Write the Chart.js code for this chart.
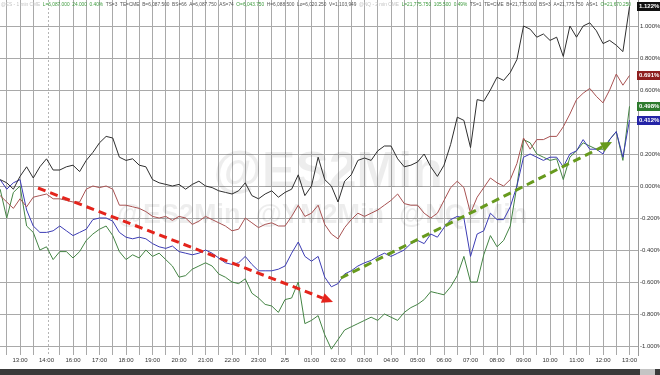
<!DOCTYPE html>
<html>
<head>
<meta charset="utf-8">
<script src="https://cdn.jsdelivr.net/npm/chart.js@4.4.1/dist/chart.umd.min.js"></script>
<style>
html, body { margin: 0; padding: 0; background: #fff; }
</style>
</head>
<body>
<canvas id="myChart" width="660" height="375"></canvas>
<script>
// tick labels (one per trading hour, 15:00 is the maintenance break)
var hourLabels = ['13:00', '14:00', '16:00', '17:00', '18:00', '19:00', '20:00', '21:00', '22:00', '23:00', '2/5', '01:00',
    '02:00', '03:00', '04:00', '05:00', '06:00', '07:00', '08:00', '09:00', '10:00', '11:00', '12:00', '13:00'];
var yTicks = [-1.0, -0.8, -0.6, -0.4, -0.2, 0, 0.2, 0.4, 0.6, 0.8, 1.0];

// % change, sampled every 15 min of trading time starting 12:15
var blackVals = [0.04, 0.02, -0.02, 0.06, 0.12, 0.05, 0.12, 0.17, 0.10, 0.10,
    0.12, 0.13, 0.09, 0.16, 0.21, 0.27, 0.31, 0.30, 0.18, 0.16,
    0.17, 0.13, 0.12, 0.04, 0.02, 0.01, 0.00, 0.01, -0.02, 0.01,
    0.03, 0.00, -0.01, -0.03, -0.04, -0.05, -0.03, 0.02, -0.06, -0.08,
    -0.05, -0.03, -0.07, -0.04, -0.02, 0.07, -0.06, 0.00, 0.18, 0.04,
    0.00, -0.10, 0.03, 0.07, 0.16, 0.175, 0.16, 0.22, 0.25, 0.25,
    0.17, 0.12, 0.13, 0.15, 0.20, 0.12, 0.06, 0.13, 0.26, 0.43,
    0.41, 0.24, 0.54, 0.53, 0.60, 0.68, 0.66, 0.71, 0.79, 1.00,
    0.98, 0.93, 0.95, 0.91, 0.93, 0.81, 1.00, 0.93, 1.00, 1.02,
    0.97, 0.89, 0.91, 0.88, 0.84, 1.122];
var redVals = [-0.06, -0.10, -0.14, -0.08, -0.13, -0.07, -0.06, -0.05, -0.08, -0.08,
    -0.09, -0.10, -0.10, -0.02, 0.00, -0.01, 0.00, -0.02, -0.12, -0.12,
    -0.13, -0.14, -0.16, -0.19, -0.20, -0.19, -0.215, -0.19, -0.20, -0.24,
    -0.22, -0.19, -0.21, -0.23, -0.25, -0.28, -0.27, -0.20, -0.23, -0.26,
    -0.24, -0.23, -0.25, -0.25, -0.19, -0.12, -0.19, -0.17, -0.12, -0.24,
    -0.30, -0.33, -0.26, -0.21, -0.17, -0.19, -0.17, -0.15, -0.12, -0.09,
    -0.05, -0.11, -0.12, -0.12, -0.17, -0.20, -0.17, -0.09, -0.01, 0.03,
    -0.01, -0.17, -0.07, -0.01, 0.05, 0.02, 0.00, 0.04, 0.14, 0.30,
    0.23, 0.29, 0.29, 0.31, 0.31, 0.37, 0.45, 0.54, 0.58, 0.61,
    0.56, 0.52, 0.60, 0.70, 0.63, 0.691];
var blueVals = [0.04, -0.02, 0.02, 0.04, -0.15, -0.25, -0.29, -0.29, -0.28, -0.25,
    -0.28, -0.31, -0.29, -0.27, -0.21, -0.20, -0.20, -0.22, -0.29, -0.32,
    -0.33, -0.32, -0.33, -0.36, -0.38, -0.39, -0.375, -0.41, -0.42, -0.43,
    -0.42, -0.40, -0.42, -0.45, -0.48, -0.49, -0.48, -0.44, -0.49, -0.53,
    -0.53, -0.53, -0.52, -0.50, -0.42, -0.35, -0.44, -0.47, -0.44, -0.57,
    -0.63, -0.61, -0.55, -0.53, -0.50, -0.48, -0.465, -0.44, -0.42, -0.44,
    -0.42, -0.40, -0.36, -0.34, -0.36, -0.30, -0.32, -0.26, -0.21, -0.19,
    -0.20, -0.44, -0.30, -0.28, -0.17, -0.21, -0.21, -0.13, 0.00, 0.18,
    0.20, 0.18, 0.16, 0.18, 0.18, 0.12, 0.20, 0.22, 0.29, 0.23,
    0.23, 0.20, 0.29, 0.34, 0.18, 0.412];
var greenVals = [-0.02, -0.20, -0.04, 0.00, -0.25, -0.29, -0.40, -0.38, -0.46, -0.41,
    -0.41, -0.45, -0.41, -0.34, -0.30, -0.27, -0.25, -0.31, -0.41, -0.46,
    -0.43, -0.45, -0.40, -0.44, -0.42, -0.46, -0.50, -0.57, -0.56, -0.52,
    -0.50, -0.48, -0.50, -0.55, -0.57, -0.60, -0.61, -0.58, -0.67, -0.70,
    -0.74, -0.75, -0.79, -0.71, -0.70, -0.60, -0.86, -0.84, -0.81, -0.93,
    -1.02, -0.96, -0.90, -0.88, -0.86, -0.84, -0.82, -0.84, -0.80, -0.82,
    -0.84, -0.79, -0.76, -0.74, -0.71, -0.66, -0.67, -0.68, -0.63, -0.56,
    -0.44, -0.60, -0.60, -0.43, -0.31, -0.38, -0.34, -0.25, 0.00, 0.29,
    0.27, 0.20, 0.18, 0.16, 0.17, 0.04, 0.18, 0.22, 0.27, 0.25,
    0.23, 0.23, 0.29, 0.34, 0.16, 0.498];

// trend arrows drawn on the chart, [hour index, %]
var redArrow = [[0.68, -0.0125], [11.81, -0.725]];
var greenArrow = [[12.11, -0.575], [22.34, 0.275]];

var headerParts = [
    ['@ES - 1 min CME  ', '#c4c4c4'],
    ['L=6,087.000  24.000  0.40%  ', '#3c9a3c'],
    ['TS=3  TE=CME  B=6,087.500  BS=66  A=6,087.750  AS=74  ', '#555'],
    ['O=6,043.750  ', '#3c9a3c'],
    ['H=6,088.500  Lo=6,020.250  V=1,103,949  ', '#555'],
    ['@NQ - 2 min CME  ', '#c4c4c4'],
    ['L=21,775.750  105.500  0.49%  ', '#3c9a3c'],
    ['TS=1  TE=CME  B=21,775.000  BS=3  A=21,775.750  AS=1  ', '#555'],
    ['O=21,670.250', '#3c9a3c']
];

var times = blackVals.map(function (v, i) { return i * 0.25 - 0.75; });
function pts(vals) {
    return vals.map(function (v, i) { return { x: times[i], y: v }; });
}
var gridHours = [];
for (var g = -0.5; g <= 23; g += 0.5) gridHours.push(g);

function drawArrow(ctx, x1, y1, x2, y2, color) {
    var ang = Math.atan2(y2 - y1, x2 - x1);
    var head = 11;
    var bx = x2 - head * Math.cos(ang), by = y2 - head * Math.sin(ang);
    ctx.save();
    ctx.strokeStyle = color;
    ctx.lineWidth = 3;
    ctx.setLineDash([8, 5]);
    ctx.beginPath();
    ctx.moveTo(x1, y1);
    ctx.lineTo(bx, by);
    ctx.stroke();
    ctx.setLineDash([]);
    ctx.fillStyle = color;
    ctx.beginPath();
    ctx.moveTo(x2, y2);
    ctx.lineTo(bx + 5 * Math.sin(ang), by - 5 * Math.cos(ang));
    ctx.lineTo(bx - 5 * Math.sin(ang), by + 5 * Math.cos(ang));
    ctx.closePath();
    ctx.fill();
    ctx.restore();
}

var decor = {
    id: 'decor',
    beforeDatasetsDraw: function (chart) {
        var ctx = chart.ctx, xs = chart.scales.x, a = chart.chartArea;
        ctx.save();
        // session break line at 14:00
        var sx = Math.round(xs.getPixelForValue(1.05)) + 0.5;
        ctx.strokeStyle = '#b5b5b5';
        ctx.lineWidth = 1;
        ctx.setLineDash([2, 2]);
        ctx.beginPath();
        ctx.moveTo(sx, a.top);
        ctx.lineTo(sx, a.bottom);
        ctx.stroke();
        ctx.setLineDash([]);
        // watermark
        ctx.fillStyle = 'rgba(0,0,0,0.07)';
        ctx.textAlign = 'center';
        ctx.textBaseline = 'alphabetic';
        ctx.font = 'bold 50px Arial';
        ctx.fillText('@ES2Min', 328, 187);
        ctx.font = 'bold 27px Arial';
        ctx.fillText('@ES2Min  @YM2Min  @NQ2Min', 322, 223);
        ctx.restore();
    },
    afterDatasetsDraw: function (chart) {
        var ctx = chart.ctx, xs = chart.scales.x, ys = chart.scales.y;
        drawArrow(ctx, xs.getPixelForValue(redArrow[0][0]), ys.getPixelForValue(redArrow[0][1]),
            xs.getPixelForValue(redArrow[1][0]), ys.getPixelForValue(redArrow[1][1]), '#e4241c');
        drawArrow(ctx, xs.getPixelForValue(greenArrow[0][0]), ys.getPixelForValue(greenArrow[0][1]),
            xs.getPixelForValue(greenArrow[1][0]), ys.getPixelForValue(greenArrow[1][1]), '#679a1e');
    },
    afterDraw: function (chart) {
        var ctx = chart.ctx, ys = chart.scales.y, a = chart.chartArea;
        ctx.save();
        // quote header
        ctx.font = '5px Arial';
        var total = 0;
        headerParts.forEach(function (p) { total += ctx.measureText(p[0]).width; });
        ctx.translate(1, 5);
        ctx.scale(630 / total, 1);
        ctx.textBaseline = 'middle';
        var hx = 0;
        headerParts.forEach(function (p) {
            ctx.fillStyle = p[1];
            ctx.fillText(p[0], hx, 0);
            hx += ctx.measureText(p[0]).width;
        });
        ctx.restore();

        // last value boxes
        ctx.save();
        ctx.font = 'bold 6px Arial';
        ctx.textBaseline = 'middle';
        chart.data.datasets.forEach(function (ds) {
            var last = ds.data[ds.data.length - 1].y;
            var y = Math.round(ys.getPixelForValue(last));
            ctx.fillStyle = ds.boxColor;
            ctx.fillRect(a.right - 1, y - 4, 23, 9);
            ctx.fillStyle = '#fff';
            ctx.fillText(last.toFixed(3) + '%', a.right + 1, y + 0.5);
        });
        ctx.restore();

        // bottom scroll bar
        ctx.save();
        ctx.fillStyle = '#3a3a3a';
        ctx.fillRect(0, 369, 660, 6);
        ctx.fillStyle = '#c4c4c4';
        ctx.fillRect(640, 369, 15, 6);
        ctx.restore();
    }
};

Chart.defaults.font.family = 'Arial, "Liberation Sans", sans-serif';

new Chart(document.getElementById('myChart').getContext('2d'), {
    type: 'line',
    data: {
        datasets: [
            { label: 'ES', data: pts(blackVals), borderColor: '#2e2e2e', boxColor: '#111111' },
            { label: 'YM', data: pts(redVals), borderColor: '#a85252', boxColor: '#8e1f1f' },
            { label: 'NQ', data: pts(blueVals), borderColor: '#3c3cb4', boxColor: '#2424a6' },
            { label: 'RTY', data: pts(greenVals), borderColor: '#448444', boxColor: '#2c7a2c' }
        ]
    },
    options: {
        responsive: false,
        animation: false,
        layout: { padding: 0 },
        elements: {
            line: { borderWidth: 1, tension: 0 },
            point: { radius: 0 }
        },
        plugins: {
            legend: { display: false },
            tooltip: { enabled: false }
        },
        scales: {
            x: {
                type: 'linear',
                min: -0.755,
                max: 23.32,
                afterBuildTicks: function (s) {
                    s.ticks = gridHours.map(function (v) { return { value: v }; });
                },
                afterFit: function (s) {
                    s.height = 20;
                    s.paddingLeft = 0;
                    s.paddingRight = 0;
                },
                ticks: {
                    autoSkip: false,
                    maxRotation: 0,
                    padding: 2,
                    color: '#333',
                    font: { size: 6 },
                    callback: function (v) {
                        return Number.isInteger(v) ? hourLabels[v] : '';
                    }
                },
                grid: {
                    drawTicks: false,
                    color: function (c) {
                        return c.tick && c.tick.value === 1 ? 'rgba(0,0,0,0)' : '#a9a9a9';
                    }
                },
                border: { display: false }
            },
            y: {
                position: 'right',
                min: -1.05625,
                max: 1.1625,
                afterBuildTicks: function (s) {
                    s.ticks = yTicks.map(function (v) { return { value: v }; });
                },
                afterFit: function (s) {
                    s.width = 22;
                    s.paddingTop = 0;
                    s.paddingBottom = 0;
                },
                ticks: {
                    padding: 2,
                    color: '#333',
                    font: { size: 6 },
                    callback: function (v) { return v.toFixed(3) + '%'; }
                },
                grid: { drawTicks: false, color: '#a9a9a9' },
                border: { display: true, color: '#9a9a9a' }
            }
        }
    },
    plugins: [decor]
});
</script>
</body>
</html>
